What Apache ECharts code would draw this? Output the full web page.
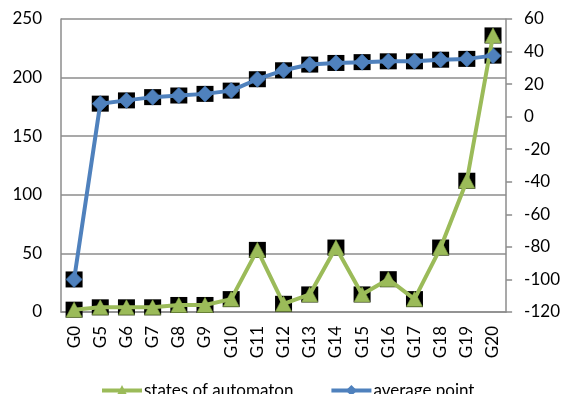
<!DOCTYPE html>
<html>
<head>
<meta charset="utf-8">
<script src="https://cdn.jsdelivr.net/npm/echarts@6/dist/echarts.min.js"></script>
<style>
  html, body { margin: 0; padding: 0; background: #fff; }
  #chart { width: 563px; height: 394px; }
</style>
</head>
<body>
<div id="chart"></div>
<script>
// Generation labels along the x axis
const categories = ['G0', 'G5', 'G6', 'G7', 'G8', 'G9', 'G10', 'G11', 'G12', 'G13', 'G14', 'G15', 'G16', 'G17', 'G18', 'G19', 'G20'];
// Left axis series
const statesOfAutomaton = [2, 4, 4, 4, 6, 6, 11, 53, 7, 15, 55, 15, 28, 11, 55, 112, 236];
// Right axis series
const averagePoint = [-100, 8, 10, 12, 13, 14, 16, 23, 28.5, 32, 33, 33.5, 34, 34, 35, 35.5, 37.5];

const GREEN = '#9BBB59';
const BLUE = '#4F81BD';
const FONT = 'Lato';
const AXIS_GRAY = '#8c8c8c';

const chart = echarts.init(document.getElementById('chart'), null, { renderer: 'canvas' });

// Each point is drawn as a black square backing with the coloured symbol on top.
function markerLayers(name, data, yIndex, symbol, color, size) {
  return [
    {
      name: name + '-back', type: 'scatter', yAxisIndex: yIndex, data: data,
      symbol: 'rect', symbolSize: [17, 16], silent: true,
      itemStyle: { color: '#000', opacity: 1 },
      emphasis: { disabled: true }
    },
    {
      name: name + '-mark', type: 'scatter', yAxisIndex: yIndex, data: data,
      symbol: symbol, symbolSize: size, silent: true,
      itemStyle: {
        color: color, opacity: 1,
        borderColor: symbol === 'triangle' ? '#6f8a3a' : '#3f6ea8', borderWidth: 0.8
      },
      emphasis: { disabled: true }
    }
  ];
}

chart.setOption({
  animation: false,
  textStyle: { fontFamily: FONT },
  grid: { left: 61, right: 55, top: 19, bottom: 82 },
  legend: {
    data: ['states of automaton', 'average point'],
    left: 95, top: 377,
    itemWidth: 40, itemHeight: 14, itemGap: 36,
    lineStyle: { width: 4 },
    textStyle: { fontFamily: FONT, fontSize: 17, color: '#000', padding: [0, 0, 0, -3] }
  },
  xAxis: {
    type: 'category', data: categories, boundaryGap: true,
    axisLine: { lineStyle: { color: AXIS_GRAY, width: 1.5 } },
    axisTick: { show: false },
    axisLabel: { rotate: 90, margin: 14, fontFamily: FONT, fontSize: 17, color: '#000' }
  },
  yAxis: [
    {
      type: 'value', min: 0, max: 250, interval: 50, position: 'left',
      axisLine: { show: true, lineStyle: { color: AXIS_GRAY, width: 1.5 } },
      axisTick: { show: false },
      splitLine: { show: true, lineStyle: { color: AXIS_GRAY, width: 1.5 } },
      axisLabel: { margin: 19, fontFamily: FONT, fontSize: 17, color: '#000' }
    },
    {
      type: 'value', min: -120, max: 60, interval: 20, position: 'right',
      axisLine: { show: true, lineStyle: { color: AXIS_GRAY, width: 1.5 } },
      axisTick: { show: true, inside: false, length: 6, lineStyle: { color: AXIS_GRAY, width: 1.5 } },
      splitLine: { show: false },
      axisLabel: { margin: 18, fontFamily: FONT, fontSize: 17, color: '#000' }
    }
  ],
  series: [
    {
      name: 'states of automaton', type: 'line', yAxisIndex: 0, data: statesOfAutomaton,
      symbol: 'triangle', symbolSize: 14, showSymbol: true,
      lineStyle: { color: GREEN, width: 4 },
      itemStyle: { color: GREEN },
      emphasis: { disabled: true }
    },
    ...markerLayers('states of automaton', statesOfAutomaton, 0, 'triangle', GREEN, [16, 15]),
    {
      name: 'average point', type: 'line', yAxisIndex: 1, data: averagePoint,
      symbol: 'diamond', symbolSize: 14, showSymbol: true,
      lineStyle: { color: BLUE, width: 4 },
      itemStyle: { color: BLUE },
      emphasis: { disabled: true }
    },
    ...markerLayers('average point', averagePoint, 1, 'diamond', BLUE, [16, 16])
  ]
});
</script>
</body>
</html>
